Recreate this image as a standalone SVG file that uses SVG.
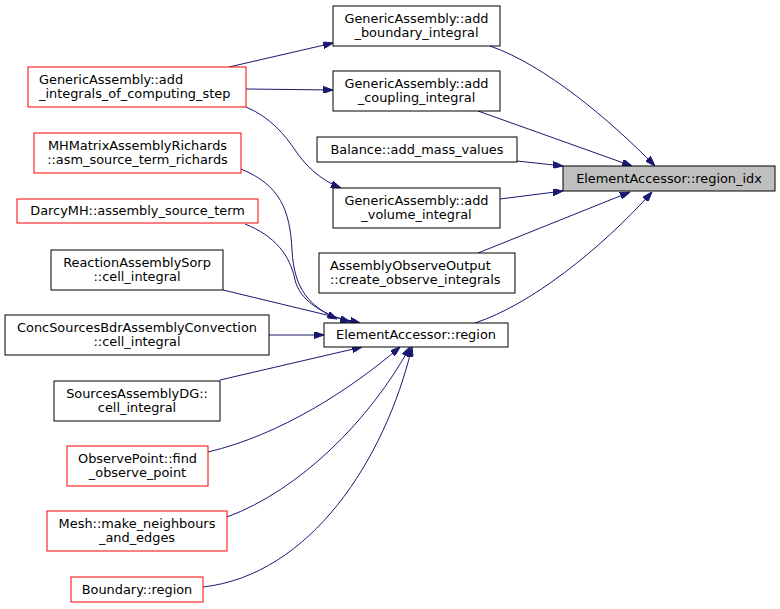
<svg xmlns="http://www.w3.org/2000/svg" width="780" height="609" viewBox="0 0 780 609">
<style>
.n rect{fill:#fff;stroke:#000;stroke-width:1}
.n.r rect{stroke:#ff0000}
.n.cur rect{fill:#bfbfbf}
.n text{font-family:"DejaVu Sans",sans-serif;font-size:12.9px;fill:#000;text-anchor:middle}
.n text.l{text-anchor:start}
#edges path{fill:none;stroke:#191970;stroke-width:1;marker-end:url(#ah)}
</style>
<defs>
<marker id="ah" viewBox="0 0 10 7" refX="10" refY="3.5" markerWidth="10" markerHeight="7" markerUnits="userSpaceOnUse" orient="auto">
<path d="M0,0 L10,3.5 L0,7 z" fill="#191970" stroke="#191970"/>
</marker>
</defs>
<rect width="780" height="609" fill="#fff"/>
<g id="edges">
<path d="M229,67 L333,43"/>
<path d="M246,89 L333,90"/>
<path d="M246,107 C270,117 285,135 295,150 C305,165 320,180 341,188"/>
<path d="M490,46 C545,65 610,120 655,166"/>
<path d="M478,111 L632,166"/>
<path d="M517,161 L563,166"/>
<path d="M500,199 L563,191"/>
<path d="M478,253 L630,192"/>
<path d="M475,323 C530,305 600,250 652,192"/>
<path d="M241,169 C280,185 290,210 292,250 C294,290 310,306 337,319"/>
<path d="M245,224 C275,236 290,255 295,280 C300,300 320,313 350,322"/>
<path d="M223,290 L360,323"/>
<path d="M269,335 L324,335"/>
<path d="M220,380 L362,347"/>
<path d="M208,452 C280,435 350,390 400,347"/>
<path d="M227,517 C300,490 370,420 410,347"/>
<path d="M203,587 C310,575 385,460 412,347"/>
</g>
<g id="n_bnd" class="n"><rect x="333" y="6" width="167" height="40"/><text x="416.5" y="22.5">GenericAssembly::add</text><text x="416.5" y="37">_boundary_integral</text></g>
<g id="n_cpl" class="n"><rect x="333" y="71" width="167" height="40"/><text x="416.5" y="87.5">GenericAssembly::add</text><text x="416.5" y="102">_coupling_integral</text></g>
<g id="n_bal" class="n"><rect x="317" y="137" width="200" height="25"/><text x="417" y="153.5">Balance::add_mass_values</text></g>
<g id="n_vol" class="n"><rect x="333" y="188" width="167" height="40"/><text x="416.5" y="204.5">GenericAssembly::add</text><text x="416.5" y="219">_volume_integral</text></g>
<g id="n_aoo" class="n"><rect x="319" y="253" width="196" height="40"/><text class="l" x="330" y="269.5">AssemblyObserveOutput</text><text class="l" x="330" y="284">::create_observe_integrals</text></g>
<g id="n_reg" class="n"><rect x="324" y="323" width="184" height="24"/><text x="416" y="339">ElementAccessor::region</text></g>
<g id="n_idx" class="n cur"><rect x="563" y="166" width="212" height="25"/><text x="669" y="182.5">ElementAccessor::region_idx</text></g>
<g id="n_int" class="n r"><rect x="28" y="67" width="218" height="40"/><text class="l" x="39" y="83.5">GenericAssembly::add</text><text class="l" x="39" y="98">_integrals_of_computing_step</text></g>
<g id="n_mh" class="n r"><rect x="34" y="133" width="207" height="40"/><text x="137.5" y="149.5">MHMatrixAssemblyRichards</text><text x="137.5" y="164">::asm_source_term_richards</text></g>
<g id="n_darcy" class="n r"><rect x="17" y="199" width="241" height="24"/><text x="137.5" y="215">DarcyMH::assembly_source_term</text></g>
<g id="n_rea" class="n"><rect x="51" y="250" width="172" height="40"/><text x="137" y="266.5">ReactionAssemblySorp</text><text x="137" y="281">::cell_integral</text></g>
<g id="n_conc" class="n"><rect x="5" y="315" width="264" height="40"/><text x="137" y="331.5">ConcSourcesBdrAssemblyConvection</text><text x="137" y="346">::cell_integral</text></g>
<g id="n_src" class="n"><rect x="54" y="381" width="166" height="40"/><text x="137" y="397.5">SourcesAssemblyDG::</text><text x="137" y="412">cell_integral</text></g>
<g id="n_obs" class="n r"><rect x="67" y="446" width="141" height="40"/><text x="137.5" y="462.5">ObservePoint::find</text><text x="137.5" y="477">_observe_point</text></g>
<g id="n_mesh" class="n r"><rect x="47" y="511" width="180" height="40"/><text x="137" y="527.5">Mesh::make_neighbours</text><text x="137" y="542">_and_edges</text></g>
<g id="n_bdy" class="n r"><rect x="71" y="577" width="132" height="25"/><text x="137" y="593.5">Boundary::region</text></g>
</svg>
